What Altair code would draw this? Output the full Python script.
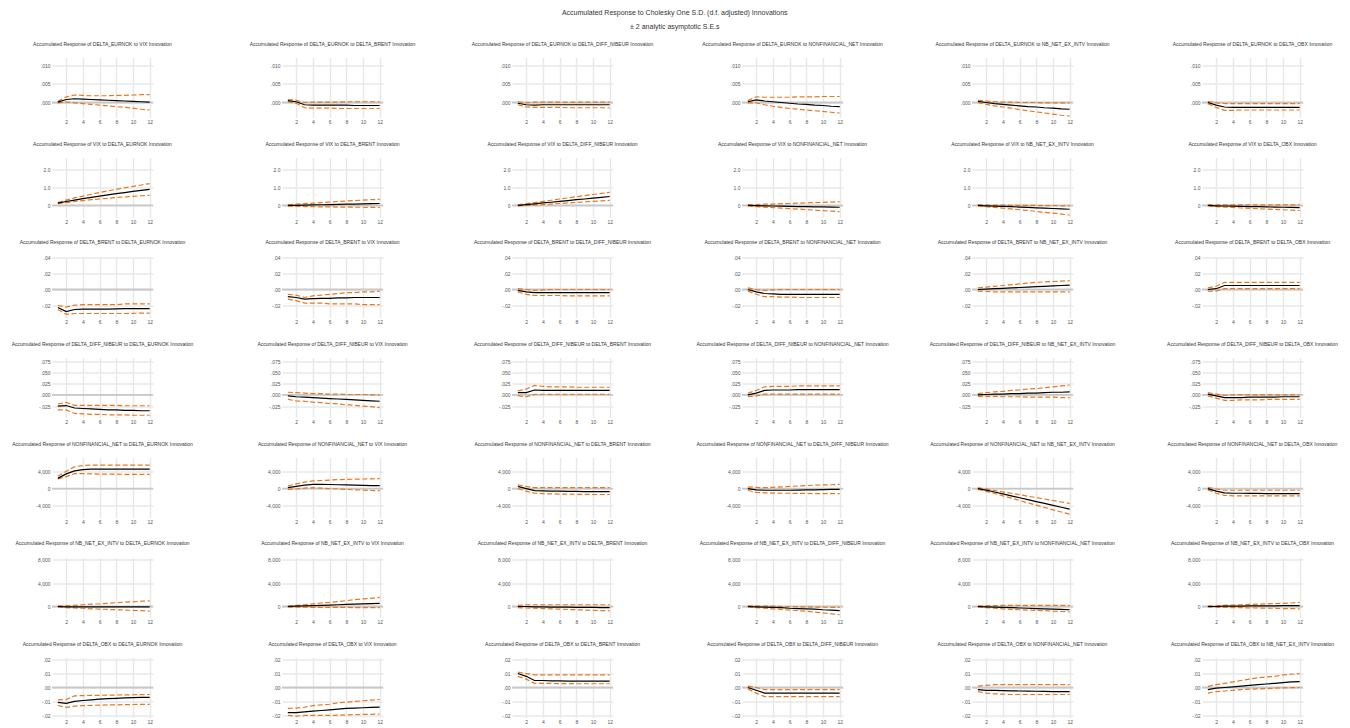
import altair as alt
import pandas as pd

steps = list(range(1, 13))
variables = ["DELTA_EURNOK", "VIX", "DELTA_BRENT", "DELTA_DIFF_NIBEUR",
             "NONFINANCIAL_NET", "NB_NET_EX_INTV", "DELTA_OBX"]

# ---- DELTA_EURNOK responses (shocks: VIX, BRENT, DIFF_NIBEUR, NONFIN, NB, OBX)
eurnok_resp = [
    [0.0001, 0.0008, 0.0010, 0.0009, 0.0008, 0.0007, 0.0006, 0.0005, 0.0004, 0.0003, 0.0002, 0.0001],
    [0.0005, 0.0002, -0.0006, -0.0007, -0.0007, -0.0007, -0.0007, -0.0007, -0.0008, -0.0008, -0.0008, -0.0008],
    [-0.0002, -0.0006, -0.0007, -0.0006, -0.0006, -0.0006, -0.0006, -0.0006, -0.0006, -0.0006, -0.0006, -0.0006],
    [0.0002, 0.0007, 0.0004, 0.0002, 0.0000, -0.0002, -0.0004, -0.0005, -0.0007, -0.0008, -0.0010, -0.0011],
    [0.0003, 0.0000, -0.0003, -0.0005, -0.0007, -0.0009, -0.0011, -0.0012, -0.0014, -0.0015, -0.0017, -0.0018],
    [0.0000, -0.0007, -0.0012, -0.0013, -0.0013, -0.0013, -0.0013, -0.0013, -0.0013, -0.0013, -0.0013, -0.0013],
]
eurnok_upper = [
    [0.0003, 0.0015, 0.0020, 0.0019, 0.0018, 0.0018, 0.0018, 0.0019, 0.0019, 0.0020, 0.0021, 0.0021],
    [0.0008, 0.0006, 0.0000, 0.0001, 0.0001, 0.0001, 0.0001, 0.0002, 0.0002, 0.0002, 0.0002, 0.0002],
    [0.0002, -0.0001, 0.0001, 0.0001, 0.0001, 0.0001, 0.0001, 0.0001, 0.0001, 0.0001, 0.0001, 0.0001],
    [0.0005, 0.0015, 0.0014, 0.0014, 0.0014, 0.0014, 0.0015, 0.0015, 0.0015, 0.0016, 0.0016, 0.0016],
    [0.0006, 0.0004, 0.0002, 0.0001, 0.0001, 0.0000, 0.0000, 0.0000, -0.0001, -0.0001, -0.0001, -0.0001],
    [0.0003, -0.0001, -0.0003, -0.0003, -0.0003, -0.0003, -0.0003, -0.0003, -0.0003, -0.0003, -0.0003, -0.0003],
]
eurnok_lower = [
    [-0.0001, 0.0001, -0.0001, -0.0003, -0.0005, -0.0007, -0.0009, -0.0011, -0.0013, -0.0015, -0.0018, -0.0020],
    [0.0002, -0.0002, -0.0014, -0.0015, -0.0015, -0.0015, -0.0016, -0.0016, -0.0016, -0.0016, -0.0016, -0.0016],
    [-0.0006, -0.0012, -0.0013, -0.0013, -0.0013, -0.0013, -0.0014, -0.0014, -0.0014, -0.0014, -0.0014, -0.0014],
    [-0.0001, -0.0001, -0.0006, -0.0010, -0.0013, -0.0016, -0.0018, -0.0020, -0.0022, -0.0024, -0.0026, -0.0028],
    [0.0000, -0.0005, -0.0009, -0.0012, -0.0015, -0.0019, -0.0022, -0.0025, -0.0028, -0.0031, -0.0034, -0.0036],
    [-0.0003, -0.0013, -0.0021, -0.0021, -0.0020, -0.0020, -0.0020, -0.0020, -0.0020, -0.0020, -0.0020, -0.0020],
]

# ---- VIX responses (shocks: EURNOK, BRENT, DIFF_NIBEUR, NONFIN, NB, OBX)
vix_resp = [
    [0.13, 0.22, 0.30, 0.38, 0.45, 0.52, 0.59, 0.66, 0.72, 0.78, 0.84, 0.90],
    [0.00, 0.01, 0.02, 0.03, 0.04, 0.05, 0.06, 0.07, 0.08, 0.09, 0.10, 0.11],
    [0.00, 0.05, 0.09, 0.14, 0.18, 0.23, 0.27, 0.32, 0.36, 0.41, 0.45, 0.50],
    [0.00, -0.01, -0.02, -0.03, -0.04, -0.05, -0.06, -0.07, -0.08, -0.08, -0.09, -0.10],
    [0.00, -0.02, -0.04, -0.05, -0.07, -0.09, -0.11, -0.13, -0.15, -0.17, -0.19, -0.21],
    [0.00, -0.02, -0.03, -0.04, -0.05, -0.06, -0.07, -0.08, -0.09, -0.10, -0.11, -0.12],
]
vix_upper = [
    [0.16, 0.30, 0.42, 0.52, 0.62, 0.72, 0.81, 0.90, 0.98, 1.06, 1.14, 1.22],
    [0.04, 0.07, 0.10, 0.13, 0.16, 0.19, 0.22, 0.25, 0.27, 0.30, 0.32, 0.34],
    [0.03, 0.10, 0.16, 0.23, 0.29, 0.36, 0.42, 0.49, 0.55, 0.61, 0.67, 0.73],
    [0.03, 0.05, 0.07, 0.08, 0.10, 0.11, 0.13, 0.14, 0.16, 0.17, 0.19, 0.20],
    [0.03, 0.03, 0.02, 0.02, 0.01, 0.01, 0.00, 0.00, -0.01, -0.01, -0.02, -0.02],
    [0.03, 0.03, 0.03, 0.03, 0.03, 0.03, 0.03, 0.03, 0.03, 0.03, 0.03, 0.03],
]
vix_lower = [
    [0.10, 0.16, 0.22, 0.27, 0.32, 0.36, 0.40, 0.44, 0.48, 0.51, 0.54, 0.57],
    [-0.04, -0.05, -0.06, -0.07, -0.08, -0.08, -0.09, -0.09, -0.10, -0.10, -0.11, -0.11],
    [-0.02, 0.00, 0.02, 0.05, 0.08, 0.11, 0.14, 0.17, 0.20, 0.23, 0.25, 0.28],
    [-0.03, -0.06, -0.09, -0.12, -0.15, -0.18, -0.20, -0.23, -0.26, -0.29, -0.32, -0.35],
    [-0.03, -0.07, -0.11, -0.15, -0.19, -0.24, -0.28, -0.33, -0.38, -0.43, -0.48, -0.53],
    [-0.03, -0.06, -0.09, -0.11, -0.14, -0.16, -0.18, -0.20, -0.22, -0.24, -0.26, -0.28],
]

# ---- DELTA_BRENT responses (shocks: EURNOK, VIX, DIFF_NIBEUR, NONFIN, NB, OBX)
brent_resp = [
    [-0.0225, -0.0275, -0.0250, -0.0245, -0.0245, -0.0245, -0.0245, -0.0243, -0.0240, -0.0240, -0.0240, -0.0240],
    [-0.0090, -0.0100, -0.0120, -0.0115, -0.0110, -0.0110, -0.0105, -0.0105, -0.0100, -0.0100, -0.0100, -0.0100],
    [-0.0010, -0.0030, -0.0040, -0.0040, -0.0040, -0.0040, -0.0040, -0.0040, -0.0040, -0.0040, -0.0040, -0.0040],
    [0.0000, -0.0030, -0.0050, -0.0055, -0.0060, -0.0060, -0.0060, -0.0060, -0.0060, -0.0060, -0.0060, -0.0060],
    [0.0000, 0.0005, 0.0010, 0.0015, 0.0020, 0.0025, 0.0030, 0.0035, 0.0040, 0.0045, 0.0050, 0.0055],
    [0.0000, 0.0010, 0.0050, 0.0050, 0.0050, 0.0050, 0.0050, 0.0050, 0.0050, 0.0050, 0.0050, 0.0050],
]
brent_upper = [
    [-0.0200, -0.0220, -0.0196, -0.0190, -0.0190, -0.0190, -0.0190, -0.0190, -0.0180, -0.0180, -0.0180, -0.0180],
    [-0.0060, -0.0070, -0.0100, -0.0080, -0.0070, -0.0060, -0.0050, -0.0040, -0.0040, -0.0030, -0.0030, -0.0020],
    [0.0010, 0.0000, -0.0010, -0.0005, 0.0000, 0.0000, 0.0000, 0.0000, 0.0000, 0.0000, 0.0000, 0.0000],
    [0.0020, 0.0000, -0.0010, -0.0005, 0.0000, 0.0000, 0.0000, 0.0000, 0.0000, 0.0000, 0.0000, 0.0000],
    [0.0020, 0.0030, 0.0040, 0.0050, 0.0060, 0.0070, 0.0080, 0.0090, 0.0095, 0.0100, 0.0105, 0.0110],
    [0.0020, 0.0040, 0.0090, 0.0090, 0.0090, 0.0090, 0.0090, 0.0090, 0.0090, 0.0090, 0.0090, 0.0090],
]
brent_lower = [
    [-0.0250, -0.0310, -0.0300, -0.0300, -0.0300, -0.0300, -0.0300, -0.0300, -0.0300, -0.0298, -0.0296, -0.0296],
    [-0.0120, -0.0140, -0.0170, -0.0170, -0.0170, -0.0180, -0.0180, -0.0180, -0.0180, -0.0190, -0.0190, -0.0190],
    [-0.0030, -0.0060, -0.0075, -0.0075, -0.0075, -0.0075, -0.0080, -0.0080, -0.0080, -0.0080, -0.0080, -0.0080],
    [-0.0020, -0.0060, -0.0090, -0.0090, -0.0095, -0.0095, -0.0100, -0.0100, -0.0100, -0.0100, -0.0100, -0.0100],
    [-0.0020, -0.0025, -0.0030, -0.0030, -0.0030, -0.0030, -0.0030, -0.0030, -0.0030, -0.0030, -0.0030, -0.0030],
    [-0.0020, -0.0020, 0.0010, 0.0010, 0.0010, 0.0010, 0.0010, 0.0010, 0.0010, 0.0010, 0.0010, 0.0010],
]

# ---- DELTA_DIFF_NIBEUR responses (shocks: EURNOK, VIX, BRENT, NONFIN, NB, OBX)
nibeur_resp = [
    [-0.0250, -0.0235, -0.0290, -0.0300, -0.0310, -0.0320, -0.0330, -0.0330, -0.0340, -0.0340, -0.0350, -0.0350],
    [-0.0020, -0.0040, -0.0050, -0.0060, -0.0070, -0.0080, -0.0090, -0.0100, -0.0110, -0.0120, -0.0130, -0.0140],
    [0.0050, 0.0050, 0.0110, 0.0100, 0.0100, 0.0100, 0.0100, 0.0100, 0.0100, 0.0100, 0.0100, 0.0100],
    [0.0000, 0.0040, 0.0100, 0.0110, 0.0110, 0.0110, 0.0120, 0.0120, 0.0120, 0.0120, 0.0120, 0.0120],
    [0.0000, 0.0010, 0.0020, 0.0020, 0.0030, 0.0030, 0.0040, 0.0040, 0.0050, 0.0060, 0.0060, 0.0070],
    [0.0020, -0.0020, -0.0060, -0.0060, -0.0060, -0.0050, -0.0050, -0.0050, -0.0050, -0.0040, -0.0040, -0.0040],
]
nibeur_upper = [
    [-0.0200, -0.0167, -0.0230, -0.0230, -0.0230, -0.0230, -0.0230, -0.0230, -0.0240, -0.0240, -0.0240, -0.0240],
    [0.0060, 0.0050, 0.0040, 0.0030, 0.0030, 0.0020, 0.0020, 0.0010, 0.0010, 0.0010, 0.0000, 0.0000],
    [0.0090, 0.0130, 0.0210, 0.0190, 0.0180, 0.0180, 0.0180, 0.0170, 0.0170, 0.0170, 0.0170, 0.0170],
    [0.0040, 0.0100, 0.0180, 0.0190, 0.0190, 0.0190, 0.0200, 0.0200, 0.0200, 0.0200, 0.0200, 0.0200],
    [0.0030, 0.0050, 0.0070, 0.0080, 0.0100, 0.0110, 0.0130, 0.0140, 0.0160, 0.0180, 0.0200, 0.0220],
    [0.0050, 0.0020, -0.0010, 0.0000, 0.0000, 0.0000, 0.0000, 0.0000, 0.0000, 0.0000, 0.0000, 0.0000],
]
nibeur_lower = [
    [-0.0330, -0.0330, -0.0410, -0.0420, -0.0430, -0.0430, -0.0440, -0.0440, -0.0440, -0.0450, -0.0450, -0.0450],
    [-0.0100, -0.0130, -0.0140, -0.0160, -0.0170, -0.0190, -0.0200, -0.0220, -0.0230, -0.0250, -0.0260, -0.0280],
    [-0.0015, -0.0040, 0.0015, 0.0015, 0.0015, 0.0015, 0.0015, 0.0015, 0.0015, 0.0015, 0.0015, 0.0015],
    [-0.0040, -0.0020, 0.0020, 0.0020, 0.0020, 0.0020, 0.0020, 0.0020, 0.0020, 0.0020, 0.0020, 0.0020],
    [-0.0030, -0.0030, -0.0030, -0.0040, -0.0040, -0.0040, -0.0050, -0.0050, -0.0050, -0.0050, -0.0060, -0.0060],
    [-0.0020, -0.0070, -0.0120, -0.0120, -0.0110, -0.0110, -0.0110, -0.0100, -0.0100, -0.0100, -0.0100, -0.0100],
]

# ---- NONFINANCIAL_NET responses (shocks: EURNOK, VIX, BRENT, DIFF_NIBEUR, NB, OBX)
nonfin_resp = [
    [2400, 3450, 4150, 4450, 4550, 4550, 4550, 4550, 4550, 4550, 4550, 4550],
    [200, 500, 800, 1000, 1000, 950, 900, 850, 800, 750, 700, 700],
    [500, 0, -500, -550, -600, -600, -650, -650, -700, -700, -700, -700],
    [0, -300, -400, -400, -400, -400, -350, -300, -300, -250, -200, -200],
    [0, -350, -800, -1250, -1700, -2150, -2600, -3050, -3500, -3950, -4400, -4850],
    [0, -600, -1000, -1100, -1100, -1150, -1150, -1200, -1200, -1200, -1200, -1200],
]
nonfin_upper = [
    [2900, 4050, 5150, 5400, 5500, 5500, 5500, 5500, 5500, 5500, 5500, 5500],
    [600, 1100, 1500, 1800, 1900, 2000, 2100, 2150, 2200, 2250, 2300, 2350],
    [900, 500, 200, 200, 200, 200, 200, 200, 200, 200, 200, 200],
    [400, 300, 200, 300, 400, 500, 600, 700, 800, 850, 900, 1000],
    [200, -100, -450, -800, -1100, -1450, -1800, -2100, -2450, -2800, -3150, -3500],
    [300, -100, -400, -400, -400, -400, -400, -400, -400, -400, -400, -400],
]
nonfin_lower = [
    [2250, 2800, 3500, 3500, 3450, 3400, 3400, 3400, 3350, 3350, 3350, 3350],
    [-200, -100, 100, 200, 100, 0, -100, -200, -300, -350, -450, -500],
    [0, -600, -1100, -1200, -1250, -1300, -1300, -1350, -1350, -1400, -1400, -1400],
    [-400, -900, -1000, -1050, -1100, -1100, -1150, -1150, -1200, -1200, -1200, -1200],
    [-200, -650, -1150, -1700, -2250, -2800, -3350, -3900, -4450, -5000, -5500, -6000],
    [-300, -1100, -1600, -1700, -1700, -1700, -1700, -1700, -1700, -1700, -1700, -1700],
]

# ---- NB_NET_EX_INTV responses (shocks: EURNOK, VIX, BRENT, DIFF_NIBEUR, NONFIN, OBX)
nb_resp = [
    [0, -50, -50, -50, -50, -50, -50, -50, -50, -50, -50, -50],
    [0, 50, 100, 150, 200, 250, 300, 350, 400, 450, 500, 550],
    [0, 0, -50, -50, -100, -100, -100, -150, -150, -150, -200, -200],
    [0, -50, -100, -150, -200, -300, -350, -400, -450, -550, -600, -700],
    [0, -50, -100, -150, -200, -250, -300, -350, -400, -450, -500, -550],
    [0, 0, 50, 50, 50, 100, 100, 100, 100, 150, 150, 150],
]
nb_upper = [
    [100, 150, 200, 300, 400, 450, 550, 650, 750, 800, 900, 970],
    [100, 200, 300, 450, 600, 700, 850, 1000, 1150, 1300, 1400, 1550],
    [200, 300, 300, 300, 300, 300, 300, 300, 300, 300, 300, 300],
    [100, 100, 50, 50, 0, 0, -50, -50, -100, -100, -150, -150],
    [100, 150, 150, 200, 200, 200, 200, 200, 200, 200, 200, 200],
    [100, 150, 200, 250, 300, 350, 400, 450, 500, 550, 600, 700],
]
nb_lower = [
    [-100, -200, -250, -300, -400, -450, -500, -550, -600, -650, -700, -800],
    [-100, -100, -100, -150, -150, -150, -150, -150, -200, -200, -200, -200],
    [-200, -250, -300, -350, -400, -450, -500, -550, -600, -650, -700, -700],
    [-100, -200, -300, -400, -500, -600, -700, -800, -950, -1100, -1250, -1400],
    [-100, -200, -300, -400, -500, -550, -600, -650, -700, -800, -850, -900],
    [-100, -150, -150, -200, -200, -250, -250, -300, -300, -350, -350, -400],
]

# ---- DELTA_OBX responses (shocks: EURNOK, VIX, BRENT, DIFF_NIBEUR, NONFIN, NB)
obx_resp = [
    [-0.0107, -0.0114, -0.0100, -0.0093, -0.0088, -0.0083, -0.0080, -0.0078, -0.0075, -0.0072, -0.0071, -0.0071],
    [-0.0180, -0.0180, -0.0175, -0.0170, -0.0165, -0.0160, -0.0155, -0.0150, -0.0148, -0.0145, -0.0142, -0.0140],
    [0.0100, 0.0080, 0.0050, 0.0050, 0.0048, 0.0047, 0.0046, 0.0046, 0.0045, 0.0045, 0.0045, 0.0045],
    [0.0000, -0.0020, -0.0040, -0.0040, -0.0040, -0.0040, -0.0040, -0.0040, -0.0040, -0.0040, -0.0040, -0.0040],
    [-0.0015, -0.0020, -0.0020, -0.0022, -0.0024, -0.0025, -0.0026, -0.0027, -0.0028, -0.0029, -0.0030, -0.0030],
    [-0.0015, -0.0005, 0.0000, 0.0005, 0.0010, 0.0015, 0.0020, 0.0025, 0.0030, 0.0035, 0.0040, 0.0042],
]
obx_upper = [
    [-0.0088, -0.0086, -0.0060, -0.0058, -0.0057, -0.0056, -0.0055, -0.0054, -0.0053, -0.0052, -0.0051, -0.0050],
    [-0.0150, -0.0148, -0.0140, -0.0130, -0.0125, -0.0120, -0.0110, -0.0105, -0.0100, -0.0095, -0.0090, -0.0086],
    [0.0110, 0.0100, 0.0090, 0.0090, 0.0090, 0.0090, 0.0090, 0.0090, 0.0090, 0.0090, 0.0090, 0.0090],
    [0.0010, 0.0000, -0.0015, -0.0015, -0.0015, -0.0015, -0.0015, -0.0015, -0.0015, -0.0015, -0.0015, -0.0015],
    [0.0010, 0.0015, 0.0020, 0.0020, 0.0020, 0.0020, 0.0020, 0.0020, 0.0020, 0.0020, 0.0020, 0.0020],
    [0.0008, 0.0020, 0.0030, 0.0040, 0.0050, 0.0060, 0.0070, 0.0075, 0.0080, 0.0090, 0.0095, 0.0100],
]
obx_lower = [
    [-0.0129, -0.0143, -0.0133, -0.0130, -0.0128, -0.0126, -0.0125, -0.0124, -0.0123, -0.0122, -0.0121, -0.0121],
    [-0.0200, -0.0205, -0.0200, -0.0200, -0.0200, -0.0200, -0.0198, -0.0196, -0.0194, -0.0193, -0.0192, -0.0190],
    [0.0080, 0.0060, 0.0030, 0.0030, 0.0029, 0.0028, 0.0028, 0.0027, 0.0027, 0.0027, 0.0027, 0.0027],
    [-0.0010, -0.0040, -0.0065, -0.0065, -0.0065, -0.0065, -0.0065, -0.0065, -0.0065, -0.0065, -0.0065, -0.0065],
    [-0.0030, -0.0040, -0.0045, -0.0048, -0.0050, -0.0050, -0.0050, -0.0050, -0.0050, -0.0050, -0.0050, -0.0050],
    [-0.0040, -0.0030, -0.0025, -0.0020, -0.0015, -0.0012, -0.0010, -0.0008, -0.0005, -0.0003, -0.0001, 0.0000],
]

# y-axis tick values and labels per response variable
eurnok_ticks = [0.0, 0.005, 0.010]
eurnok_labels = [".000", ".005", ".010"]
vix_ticks = [0.0, 1.0, 2.0]
vix_labels = ["0", "1.0", "2.0"]
brent_ticks = [-0.02, 0.0, 0.02, 0.04]
brent_labels = ["-.02", ".00", ".02", ".04"]
nibeur_ticks = [-0.025, 0.0, 0.025, 0.05, 0.075]
nibeur_labels = ["-.025", ".000", ".025", ".050", ".075"]
nonfin_ticks = [-4000, 0, 4000]
nonfin_labels = ["-4,000", "0", "4,000"]
nb_ticks = [0, 4000, 8000]
nb_labels = ["0", "4,000", "8,000"]
obx_ticks = [-0.02, -0.01, 0.0, 0.01, 0.02]
obx_labels = ["-.02", "-.01", ".00", ".01", ".02"]
x_ticks = [2, 4, 6, 8, 10, 12]
zero_level = [0]

rows = [
    (eurnok_resp, eurnok_upper, eurnok_lower, eurnok_ticks, eurnok_labels, [-0.004, 0.012]),
    (vix_resp, vix_upper, vix_lower, vix_ticks, vix_labels, [-0.67, 2.67]),
    (brent_resp, brent_upper, brent_lower, brent_ticks, brent_labels, [-0.035, 0.04]),
    (nibeur_resp, nibeur_upper, nibeur_lower, nibeur_ticks, nibeur_labels, [-0.05, 0.083]),
    (nonfin_resp, nonfin_upper, nonfin_lower, nonfin_ticks, nonfin_labels, [-6800, 7300]),
    (nb_resp, nb_upper, nb_lower, nb_ticks, nb_labels, [-1870, 8340]),
    (obx_resp, obx_upper, obx_lower, obx_ticks, obx_labels, [-0.0215, 0.0215]),
]

ORANGE = "#e8781e"
FONT = "Liberation Sans"


def label_expr(ticks, labels):
    expr = "''"
    for t, l in reversed(list(zip(ticks, labels))):
        expr = f"abs(datum.value - ({t})) < 1e-9 ? '{l}' : ({expr})"
    return expr


panels = []
for i, (resp, upper, lower, ticks, labels, dom) in enumerate(rows):
    shocks = [v for j, v in enumerate(variables) if j != i]
    for k, shock in enumerate(shocks):
        recs = []
        for s, name in ((resp[k], "resp"), (upper[k], "upper"), (lower[k], "lower")):
            for x, v in zip(steps, s):
                recs.append({"step": x, "value": v, "series": name})
        df = pd.DataFrame(recs)
        yaxis = alt.Axis(values=ticks, title=None, labelOverlap=False,
                         labelExpr=label_expr(ticks, labels))
        yscale = alt.Scale(domain=dom, nice=False, zero=False)
        xenc = alt.X("step:Q", scale=alt.Scale(domain=[0.3, 12.4], nice=False, zero=False),
                     axis=alt.Axis(values=x_ticks, title=None, format="d", labelOverlap=False))
        yenc = alt.Y("value:Q", scale=yscale, axis=yaxis)
        zero = alt.Chart(pd.DataFrame({"value": zero_level})).mark_rule(
            color="#c8c8c8", strokeWidth=1.8).encode(y=alt.Y("value:Q", scale=yscale, axis=yaxis))
        base = alt.Chart(df)
        bands = base.transform_filter("datum.series != 'resp'").mark_line(
            color=ORANGE, strokeDash=[5, 2.5], strokeWidth=1.2).encode(
            x=xenc, y=yenc, detail="series:N")
        line = base.transform_filter("datum.series == 'resp'").mark_line(
            color="black", strokeWidth=1.2).encode(x=xenc, y=yenc)
        title = f"Accumulated Response of {variables[i]} to {shock} Innovation"
        panel = alt.layer(zero, bands, line).properties(
            width=101, height=60,
            title=alt.TitleParams(title, fontSize=5.0, fontWeight="normal", color="#333",
                                  font=FONT, offset=11, anchor="middle"))
        panels.append(panel)

chart = alt.concat(*panels, columns=6, bounds="flush",
                   spacing={"row": 40, "column": 129}).properties(
    title=alt.TitleParams(
        "Accumulated Response to Cholesky One S.D. (d.f. adjusted) Innovations",
        subtitle="± 2 analytic asymptotic S.E.s",
        fontSize=7, subtitleFontSize=7, fontWeight="normal", color="#333",
        subtitleColor="#333", font=FONT, subtitleFont=FONT,
        anchor="middle", subtitlePadding=7.5, offset=11.5),
    padding={"left": 3, "top": 0.5, "right": 0, "bottom": 0},
).configure_view(stroke=None).configure_axis(
    labelFont=FONT, labelFontSize=5, labelColor="#555", domain=False, ticks=False,
    gridColor="#e8e8e8", gridWidth=1.5, labelPadding=2
).configure_title(font=FONT)

chart.save("out.html", embed_options={"renderer": "svg", "actions": False})
